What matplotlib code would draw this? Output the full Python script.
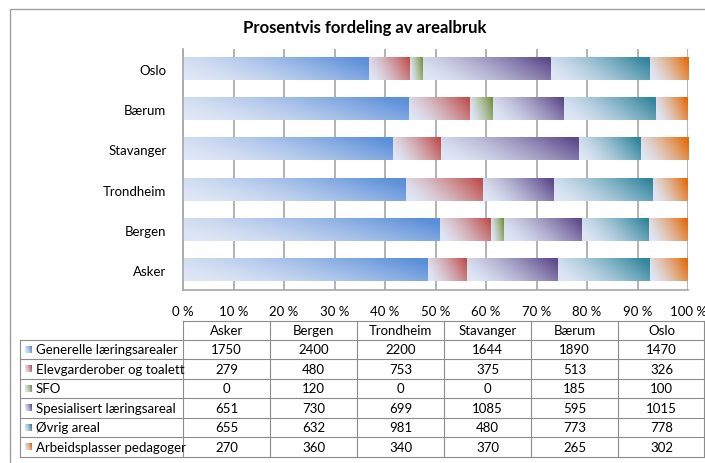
import numpy as np
import matplotlib.pyplot as plt
from matplotlib.colors import to_rgb

plt.rcParams['font.family'] = ['Lato', 'DejaVu Sans']

# data
cities = ['Asker', 'Bergen', 'Trondheim', 'Stavanger', 'Bærum', 'Oslo']
categories = ['Generelle læringsarealer', 'Elevgarderober og toalett', 'SFO',
              'Spesialisert læringsareal', 'Øvrig areal', 'Arbeidsplasser pedagoger']
generelle = [1750, 2400, 2200, 1644, 1890, 1470]
elevgard = [279, 480, 753, 375, 513, 326]
sfo = [0, 120, 0, 0, 185, 100]
spesial = [651, 730, 699, 1085, 595, 1015]
ovrig = [655, 632, 981, 480, 773, 778]
arbeid = [270, 360, 340, 370, 265, 302]
ticklabels = ['0 %', '10 %', '20 %', '30 %', '40 %', '50 %', '60 %', '70 %', '80 %', '90 %', '100 %']

series = [generelle, elevgard, sfo, spesial, ovrig, arbeid]
colors = ['#5b8fd9', '#c0504d', '#77933c', '#5f4b8b', '#31859c', '#e46c0a']
light = np.array(to_rgb('#dfe6f5'))

def grad(col, nx=60, ny=12):
    c = np.array(to_rgb(col))
    xs = np.linspace(0, 1, nx)
    ys = np.linspace(0, 1, ny)
    X, Y = np.meshgrid(xs, ys)
    t = np.clip(0.85 * X + 0.25 * Y - 0.05, 0, 1) ** 1.4
    return light * (1 - t[..., None]) + c * t[..., None]

fig = plt.figure(figsize=(7.05, 4.64), dpi=100)
W, H = 705, 464
ax = fig.add_axes([183 / W, 1 - 291 / H, (688 - 183) / W, (291 - 50) / H])

data = np.array(series, dtype=float)
pct = data / data.sum(axis=0) * 100
bh = 0.55
for j in range(len(cities)):
    left = 0
    for i in range(len(series)):
        w = pct[i, j]
        if w > 0:
            ax.imshow(grad(colors[i]), extent=(left, left + w, j - bh / 2, j + bh / 2),
                      origin='lower', aspect='auto', interpolation='bilinear', zorder=2)
        left += w

ax.set_xlim(0, 100)
ax.set_ylim(-0.5, len(cities) - 0.5)
ax.set_xticks(np.arange(0, 101, 10))
ax.set_xticklabels(ticklabels, fontsize=9.5)
ax.set_yticks(range(len(cities)))
ax.set_yticklabels(cities, fontsize=9.5)
ax.tick_params(length=0, pad=11)
ax.tick_params(axis='y', pad=12)
ax.xaxis.grid(True, color='#a6a6a6', linewidth=1.2, zorder=1)
for s in ['top', 'right']:
    ax.spines[s].set_visible(False)
for s in ['left', 'bottom']:
    ax.spines[s].set_color('#a6a6a6')
    ax.spines[s].set_linewidth(1.2)

fig.text(365 / W, 1 - 28 / H, 'Prosentvis fordeling av arealbruk', ha='center', va='center',
         fontsize=12, fontweight='bold')

# outer frame
ov = fig.add_axes([0, 0, 1, 1], zorder=5)
ov.set_xlim(0, W)
ov.set_ylim(H, 0)
ov.axis('off')
ov.plot([10, 10, 705], [464, 9.5, 9.5], color='#a0a0a0', lw=1)

# data table
x0 = 20
colw = (705 - 183) / len(cities)
rows_y = [322, 340.5, 360, 379.5, 399, 418.5, 438, 457.5]
lc = '#8c8c8c'
xr = 183 + colw * len(cities) - 1
ov.plot([183, xr], [rows_y[0], rows_y[0]], color=lc, lw=0.8)
for k in range(1, len(rows_y)):
    ov.plot([x0, xr], [rows_y[k], rows_y[k]], color=lc, lw=0.8)
ov.plot([x0, x0], [rows_y[1], rows_y[-1]], color=lc, lw=0.8)
for c in range(len(cities) + 1):
    xc = min(183 + colw * c, xr)
    ov.plot([xc, xc], [rows_y[0], rows_y[-1]], color=lc, lw=0.8)
for c, name in enumerate(cities):
    ov.text(183 + colw * (c + 0.5), (rows_y[0] + rows_y[1]) / 2, name,
            ha='center', va='center', fontsize=9.5)
for i, cat in enumerate(categories):
    yc = (rows_y[i + 1] + rows_y[i + 2]) / 2
    ov.imshow(grad(colors[i], 10, 10), extent=(25, 32, yc + 3.5, yc - 3.5), origin='lower',
              aspect='auto', zorder=6)
    ov.text(36, yc, cat, ha='left', va='center', fontsize=9.5)
    for c in range(len(cities)):
        ov.text(183 + colw * (c + 0.5), yc, str(series[i][c]), ha='center', va='center', fontsize=9.5)
ov.set_xlim(0, W)
ov.set_ylim(H, 0)

fig.savefig('out.png', dpi=100)
